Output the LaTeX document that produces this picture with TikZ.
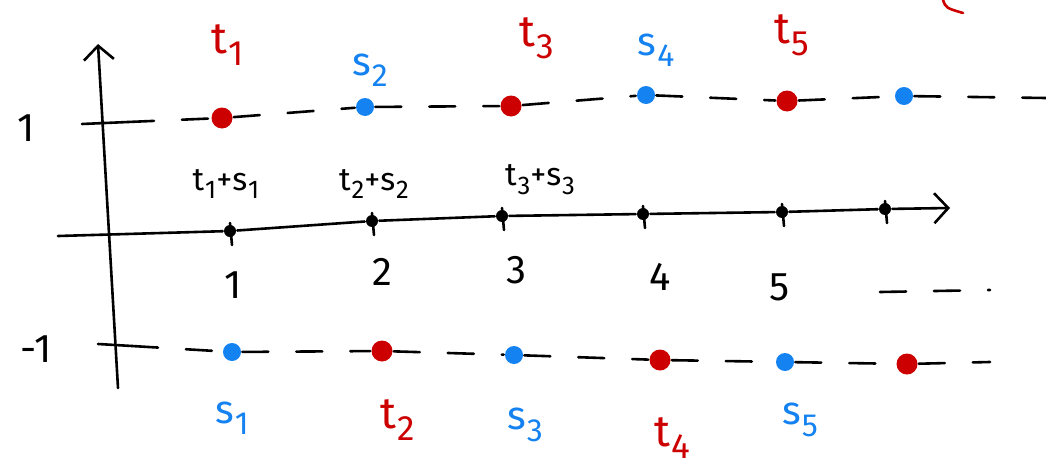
\documentclass[tikz,border=0pt]{standalone}
\usepackage{fontspec}
\setmainfont{Fira Sans}
\usetikzlibrary{arrows.meta}
\definecolor{pred}{RGB}{204,0,0}
\definecolor{pblue}{RGB}{20,130,240}
\newcommand{\lbl}[2]{#1\kern1pt\raisebox{-0.28em}{\scalebox{0.8}{#2}}}
\begin{document}
\begin{tikzpicture}[x=1pt,y=-1pt,line width=2.6pt,line cap=round,
  rdot/.style={circle,fill=pred,inner sep=0pt,minimum size=21pt},
  bdot/.style={circle,fill=pblue,inner sep=0pt,minimum size=18pt},
  kdot/.style={circle,fill=black,inner sep=0pt,minimum size=12pt},
  rlab/.style={text=pred,font=\fontsize{44}{48}\selectfont},
  blab/.style={text=pblue,font=\fontsize{40}{44}\selectfont},
  klab/.style={text=black,font=\fontsize{40}{44}\selectfont},
  sumlab/.style={text=black,font=\fontsize{32}{36}\selectfont},
  dashline/.style={dash pattern=on 26pt off 28pt},
  barb/.style={-{Straight Barb[length=14pt,width=30pt,line width=2.6pt]}}]
\useasboundingbox (0,0) rectangle (1046,471);
% axes
\coordinate (yb) at (118,388);
\coordinate (yt) at (98,44);
\draw[barb] (yb) -- (yt);
\coordinate (xl) at (58,236);
\node[kdot] (a1) at (230,231) {};
\node[kdot] (a2) at (372,221) {};
\node[kdot] (a3) at (502,216) {};
\node[kdot] (a4) at (643,214) {};
\node[kdot] (a5) at (782,212) {};
\node[kdot] (a6) at (885,209) {};
\coordinate (xr) at (950,208);
\draw (xl) -- (a1) -- (a2) -- (a3) -- (a4) -- (a5) -- (a6);
\draw[barb] (a6) -- (xr);
% x ticks
\foreach \i/\x/\y in {1/230/231,2/372/221,3/502/216,4/643/214,5/782/212,6/885/209}{
  \draw (\x,\y-8) -- (\x+2,\y+14);
}
% sum labels
\node[sumlab] (l1) at (226,184) {\lbl{t}{1}+\lbl{s}{1}};
\node[sumlab] (l2) at (374,184) {\lbl{t}{2}+\lbl{s}{2}};
\node[sumlab] (l3) at (540,180) {\lbl{t}{3}+\lbl{s}{3}};
% tick numbers
\node[klab] (n1) at (233,285) {1};
\node[klab] (n2) at (382,272) {2};
\node[klab] (n3) at (516,270) {3};
\node[klab] (n4) at (660,277) {4};
\node[klab] (n5) at (780,287) {5};
\coordinate (d1) at (880,292);
\coordinate (d2) at (990,290);
\draw[dashline] (d1) -- (d2);
% level 1
\node[klab] (one) at (26,128) {1};
\coordinate (tk1a) at (82,124);
\coordinate (tk1b) at (128,122);
\draw (tk1a) -- (tk1b);
\node[rdot] (t1) at (222,118) {};
\node[bdot] (s2) at (365,107) {};
\node[rdot] (t3) at (511,106) {};
\node[bdot] (s4) at (646,95) {};
\node[rdot] (t5) at (787,101) {};
\node[bdot] (p6) at (904,96) {};
\coordinate (e1) at (1046,98);
\draw[dashline] (tk1b) -- (t1) -- (s2) -- (t3) -- (s4) -- (t5) -- (p6) -- (e1);
\node[rlab] (lt1) at (228,45) {\lbl{t}{1}};
\node[blab] (ls2) at (370,70) {\lbl{s}{2}};
\node[rlab] (lt3) at (537,38) {\lbl{t}{3}};
\node[blab] (ls4) at (656,50) {\lbl{s}{4}};
\node[rlab] (lt5) at (792,35) {\lbl{t}{5}};
% level -1
\node[klab] (mone) at (36,349) {-1};
\coordinate (tk2a) at (98,344);
\coordinate (tk2b) at (132,346);
\draw (tk2a) -- (tk2b);
\node[bdot] (s1) at (232,352) {};
\node[rdot] (t2) at (382,351) {};
\node[bdot] (s3) at (514,355) {};
\node[rdot] (t4) at (660,360) {};
\node[bdot] (s5) at (785,362) {};
\node[rdot] (p7) at (907,364) {};
\coordinate (e2) at (990,362);
\draw[dashline] (tk2b) -- (s1) -- (t2) -- (s3) -- (t4) -- (s5) -- (p7) -- (e2);
\node[blab] (ls1) at (232,418) {\lbl{s}{1}};
\node[rlab] (lt2) at (398,420) {\lbl{t}{2}};
\node[blab] (ls3) at (525,425) {\lbl{s}{3}};
\node[rlab] (lt4) at (672,438) {\lbl{t}{4}};
\node[blab] (ls5) at (800,420) {\lbl{s}{5}};
% red arc top right
\coordinate (ra) at (943,0);
\coordinate (rb) at (963,13);
\draw[pred] (ra) .. controls (946,8) .. (rb);
\end{tikzpicture}
\end{document}
